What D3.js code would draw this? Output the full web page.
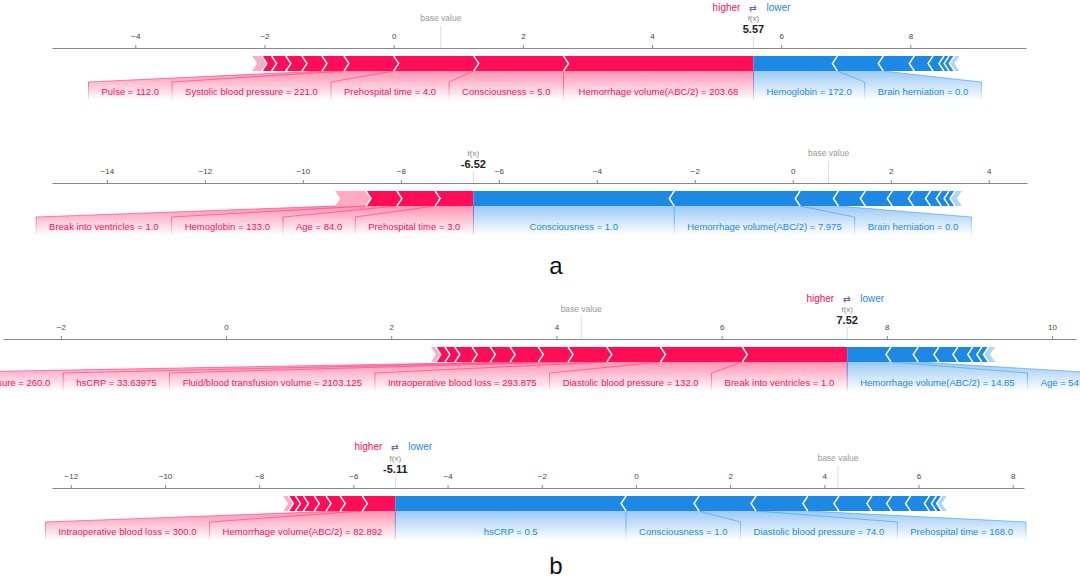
<!DOCTYPE html>
<html><head><meta charset="utf-8">
<script src="https://cdn.jsdelivr.net/npm/d3@7"></script>
<style>body{margin:0;background:#fff;font-family:"Liberation Sans",Arial,sans-serif}</style>
</head><body>
<script>
const width = 1080, height = 580;
const RED = "#ff0d57", BLUE = "#1e88e5";

// plot a1
const a1Base = 0.73, a1Fx = 5.57;
const a1Domain = [-5.29, 9.79];
const a1Ticks = [-4, -2, 0, 2, 4, 6, 8];
const a1RedNames = ["Hemorrhage volume(ABC/2) = 203.68", "Consciousness = 5.0", "Prehospital time = 4.0", "Systolic blood pressure = 221.0", "Pulse = 112.0", "", "", "", "", ""];
const a1RedVals = [2.94, 1.39, 1.24, 0.77, 0.34, 0.31, 0.25, 0.22, 0.15, 0.15];
const a1BlueNames = ["Hemoglobin = 172.0", "Brain herniation = 0.0", "", "", "", "", "", ""];
const a1BlueVals = [1.30, 0.71, 0.48, 0.29, 0.17, 0.08, 0.08, 0.08];

// plot a2
const a2Base = 0.73, a2Fx = -6.52;
const a2Domain = [-15.12, 4.78];
const a2Ticks = [-14, -12, -10, -8, -6, -4, -2, 0, 2, 4];
const a2RedNames = ["Prehospital time = 3.0", "Age = 84.0", "Hemoglobin = 133.0", "Break into ventricles = 1.0"];
const a2RedVals = [0.78, 0.78, 0.63, 0.63];
const a2BlueNames = ["Consciousness = 1.0", "Hemorrhage volume(ABC/2) = 7.975", "Brain herniation = 0.0", "", "", "", "", "", "", "", ""];
const a2BlueVals = [4.10, 2.57, 0.78, 0.55, 0.55, 0.43, 0.35, 0.22, 0.16, 0.12, 0.14];

// plot b1
const b1Base = 4.30, b1Fx = 7.52;
const b1Domain = [-2.70, 10.29];
const b1Ticks = [-2, 0, 2, 4, 6, 8, 10];
const b1RedNames = ["Break into ventricles = 1.0", "Diastolic blood pressure = 132.0", "Intraoperative blood loss = 293.875", "Fluid/blood transfusion volume = 2103.125", "hsCRP = 33.63975", "Systolic blood pressure = 260.0", "", "", "", "", "", ""];
const b1RedVals = [1.27, 0.99, 0.65, 0.47, 0.36, 0.34, 0.24, 0.22, 0.21, 0.12, 0.11, 0.06];
const b1BlueNames = ["Hemorrhage volume(ABC/2) = 14.85", "Age = 54.0", "", "", "", "", "", ""];
const b1BlueVals = [0.53, 0.33, 0.25, 0.23, 0.18, 0.11, 0.08, 0.08];

// plot b2
const b2Base = 4.29, b2Fx = -5.11;
const b2Domain = [-12.40, 8.24];
const b2Ticks = [-12, -10, -8, -6, -4, -2, 0, 2, 4, 6, 8];
const b2RedNames = ["Hemorrhage volume(ABC/2) = 82.892", "Intraoperative blood loss = 300.0", "", "", "", "", "", ""];
const b2RedVals = [0.70, 0.47, 0.30, 0.25, 0.23, 0.17, 0.15, 0.11];
const b2BlueNames = ["hsCRP = 0.5", "Consciousness = 1.0", "Diastolic blood pressure = 74.0", "Prehospital time = 168.0", "", "", "", "", "", "", "", ""];
const b2BlueVals = [4.90, 1.55, 1.21, 1.10, 0.66, 0.70, 0.42, 0.40, 0.40, 0.15, 0.11, 0.11];

const svg = d3.select("body").append("svg")
  .attr("width", width).attr("height", height)
  .style("font-family", '"Liberation Sans",Arial,sans-serif');

const defs = svg.append("defs");
[["gRed", RED], ["gBlue", BLUE]].forEach(([id, c]) => {
  const g = defs.append("linearGradient").attr("id", id)
    .attr("x1", 0).attr("y1", 0).attr("x2", 0).attr("y2", 1);
  g.append("stop").attr("offset", "0%").attr("stop-color", c).attr("stop-opacity", 0.45);
  g.append("stop").attr("offset", "100%").attr("stop-color", c).attr("stop-opacity", 0);
  const l = defs.append("linearGradient").attr("id", id + "L")
    .attr("x1", 0).attr("y1", 0).attr("x2", 0).attr("y2", 1);
  l.append("stop").attr("offset", "0%").attr("stop-color", c).attr("stop-opacity", 0.7);
  l.append("stop").attr("offset", "100%").attr("stop-color", c).attr("stop-opacity", 0.1);
});

function forcePlot(o) {
  const x = d3.scaleLinear().domain(o.domain).range([o.x0, o.x1]);
  const g = svg.append("g");
  const shade = g.append("g");
  const ay = o.axisY;
  const barTop = ay + 8, barBot = ay + 23, mid = (barTop + barBot) / 2, h = 5;
  const labTop = barBot + 11, labBot = barBot + 29;

  g.append("g").attr("transform", `translate(0,${ay})`)
    .call(d3.axisTop(x).tickValues(o.ticks).tickSize(3).tickSizeOuter(0))
    .call(s => s.select(".domain").attr("stroke", "#888"))
    .call(s => s.selectAll(".tick line").attr("stroke", "#888"))
    .call(s => s.selectAll(".tick text").attr("fill", "#444").attr("font-size", 8).attr("dy", -3));

  const fx = x(o.fx);
  // base value
  g.append("line").attr("x1", x(o.base)).attr("x2", x(o.base)).attr("y1", ay - 22).attr("y2", ay)
    .attr("stroke", "#ddd");
  g.append("text").attr("x", x(o.base)).attr("y", ay - 27).attr("text-anchor", "middle")
    .attr("font-size", 8.5).attr("fill", "#999").text("base value");
  g.append("line").attr("x1", fx).attr("x2", fx).attr("y1", ay - 12).attr("y2", ay)
    .attr("stroke", "#ddd");
  g.append("text").attr("x", fx).attr("y", ay - 27).attr("text-anchor", "middle")
    .attr("font-size", 8).attr("fill", "#888").text("f(x)");
  g.append("text").attr("x", fx).attr("y", ay - 15).attr("text-anchor", "middle")
    .attr("font-size", 11).attr("font-weight", "bold").attr("fill", "#222").text(o.fx.toFixed(2));

  if (o.legendY) {
    g.append("text").attr("x", fx - 13).attr("y", o.legendY).attr("text-anchor", "end")
      .attr("font-size", 10).attr("fill", RED).text("higher");
    g.append("text").attr("x", fx + 13).attr("y", o.legendY).attr("font-size", 10)
      .attr("fill", BLUE).text("lower");
    g.append("text").attr("x", fx).attr("y", o.legendY).attr("text-anchor", "middle")
      .attr("font-size", 9).attr("fill", "#6a5fb5").text("⇄");
  }

  function side(vals, names, dir, color, gid) {
    // dir: -1 for red (extends left), +1 for blue (extends right)
    let cum = 0;
    const segs = vals.map((v, i) => {
      const a = o.fx + dir * cum; cum += v;
      const b = o.fx + dir * cum;
      return { i, near: x(a), far: x(b), name: names[i] };
    });
    const tip = -dir * h;
    segs.forEach(s => {
      const n = s.near, f = s.far;
      const pts = s.i === 0
        ? [[n, barTop], [n, barBot]]
        : [[n, barTop], [n + tip, mid], [n, barBot]];
      const farPts = [[f, barBot], [f + tip, mid], [f, barTop]];
      const last = s.i === segs.length - 1;
      g.append("polygon").attr("points", pts.concat(farPts).map(p => p.join(",")).join(" "))
        .attr("fill", color).attr("opacity", last ? 0.35 : 1);
    });
    segs.slice(1).forEach(s => {
      g.append("polyline").attr("fill", "none").attr("stroke", "#fff").attr("stroke-width", 1.4)
        .attr("points", [[s.near, barTop], [s.near + tip, mid], [s.near, barBot]].map(p => p.join(",")).join(" "));
    });

    // labels
    let edge = fx;
    segs.filter(s => s.name).forEach(s => {
      const t = g.append("text").attr("y", barBot + 24).attr("text-anchor", "middle")
        .attr("font-size", 9.5).attr("fill", color).text(s.name);
      const tw = t.node().getComputedTextLength();
      const w = Math.max(tw + 26, Math.abs(s.far - s.near));
      const bNear = edge, bFar = edge + dir * w;
      t.attr("x", (bNear + bFar) / 2);
      shade.append("polygon")
        .attr("points", [[s.near, barBot], [s.far, barBot], [bFar, labTop], [bFar, labBot], [bNear, labBot], [bNear, labTop]].map(p => p.join(",")).join(" "))
        .attr("fill", `url(#${gid})`);
      shade.append("path").attr("d", `M${s.far},${barBot}L${bFar},${labTop}`)
        .attr("stroke", color).attr("stroke-opacity", 0.6).attr("stroke-width", 0.8).attr("fill", "none");
      shade.append("rect").attr("x", bFar - 0.4).attr("y", labTop).attr("width", 0.8).attr("height", labBot - labTop)
        .attr("fill", `url(#${gid}L)`);
      if (s.i === 0) {
        shade.append("rect").attr("x", fx - 0.4).attr("y", barBot).attr("width", 0.8).attr("height", labBot - barBot)
          .attr("fill", `url(#${gid}L)`);
      }
      edge = bFar;
    });
  }
  side(o.redVals, o.redNames, -1, RED, "gRed");
  side(o.blueVals, o.blueNames, 1, BLUE, "gBlue");
}

forcePlot({ domain: a1Domain, ticks: a1Ticks, x0: 52, x1: 1026, axisY: 48, base: a1Base, fx: a1Fx,
  redVals: a1RedVals, redNames: a1RedNames, blueVals: a1BlueVals, blueNames: a1BlueNames, legendY: 11 });
forcePlot({ domain: a2Domain, ticks: a2Ticks, x0: 52, x1: 1027, axisY: 183, base: a2Base, fx: a2Fx,
  redVals: a2RedVals, redNames: a2RedNames, blueVals: a2BlueVals, blueNames: a2BlueNames });
forcePlot({ domain: b1Domain, ticks: b1Ticks, x0: 3, x1: 1076, axisY: 339, base: b1Base, fx: b1Fx,
  redVals: b1RedVals, redNames: b1RedNames, blueVals: b1BlueVals, blueNames: b1BlueNames, legendY: 302 });
forcePlot({ domain: b2Domain, ticks: b2Ticks, x0: 52, x1: 1024, axisY: 488, base: b2Base, fx: b2Fx,
  redVals: b2RedVals, redNames: b2RedNames, blueVals: b2BlueVals, blueNames: b2BlueNames, legendY: 450 });

svg.append("text").attr("x", 556).attr("y", 274).attr("text-anchor", "middle")
  .attr("font-size", 24).attr("fill", "#111").text("a");
svg.append("text").attr("x", 556).attr("y", 574).attr("text-anchor", "middle")
  .attr("font-size", 24).attr("fill", "#111").text("b");
</script>
</body></html>
